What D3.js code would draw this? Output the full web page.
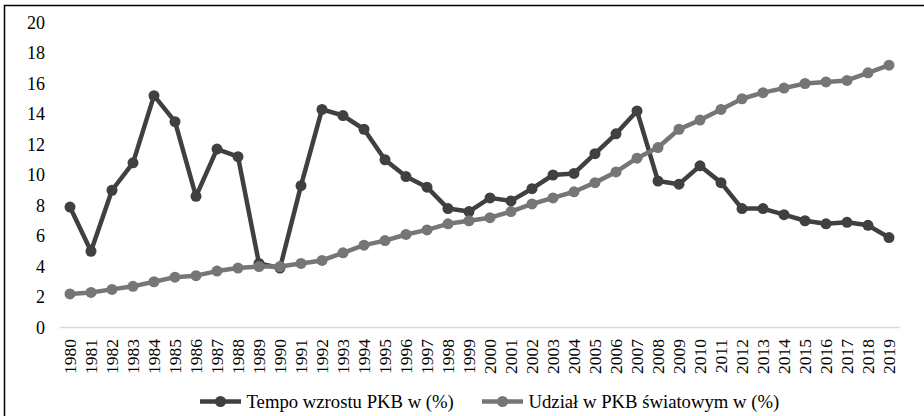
<!DOCTYPE html>
<html>
  <head>
    <meta charset="UTF-8" />
    <title>Tempo wzrostu PKB</title>
    <style>
      body {
        margin: 0;
        background: #fff;
      }
      text {
        font-family: "Liberation Serif", serif;
      }
    </style>
  </head>
  <body>
    <div id="chart"></div>
    <script src="https://cdnjs.cloudflare.com/ajax/libs/d3/7.8.5/d3.min.js"></script>
    <script>
      // lata 1980-2019
      var years = [
        1980, 1981, 1982, 1983, 1984, 1985, 1986, 1987, 1988, 1989,
        1990, 1991, 1992, 1993, 1994, 1995, 1996, 1997, 1998, 1999,
        2000, 2001, 2002, 2003, 2004, 2005, 2006, 2007, 2008, 2009,
        2010, 2011, 2012, 2013, 2014, 2015, 2016, 2017, 2018, 2019,
      ];

      var tempo = [
        7.9, 5.0, 9.0, 10.8, 15.2, 13.5, 8.6, 11.7, 11.2, 4.2,
        3.9, 9.3, 14.3, 13.9, 13.0, 11.0, 9.9, 9.2, 7.8, 7.6,
        8.5, 8.3, 9.1, 10.0, 10.1, 11.4, 12.7, 14.2, 9.6, 9.4,
        10.6, 9.5, 7.8, 7.8, 7.4, 7.0, 6.8, 6.9, 6.7, 5.9,
      ];

      var udzial = [
        2.2, 2.3, 2.5, 2.7, 3.0, 3.3, 3.4, 3.7, 3.9, 4.0,
        4.0, 4.2, 4.4, 4.9, 5.4, 5.7, 6.1, 6.4, 6.8, 7.0,
        7.2, 7.6, 8.1, 8.5, 8.9, 9.5, 10.2, 11.1, 11.8, 13.0,
        13.6, 14.3, 15.0, 15.4, 15.7, 16.0, 16.1, 16.2, 16.7, 17.2,
      ];

      var yTicks = [0, 2, 4, 6, 8, 10, 12, 14, 16, 18, 20];

      var seriesNames = ["Tempo wzrostu PKB w (%)", "Udział w PKB światowym w (%)"];
      var colors = ["#404040", "#767676"];

      var width = 924,
        height = 416;

      var svg = d3
        .select("#chart")
        .append("svg")
        .attr("width", width)
        .attr("height", height);

      // ramka wykresu (prawa i dolna krawędź poza kadrem)
      svg
        .append("rect")
        .attr("x", 4.5)
        .attr("y", 5.5)
        .attr("width", 940)
        .attr("height", 430)
        .attr("fill", "none")
        .attr("stroke", "#000")
        .attr("stroke-width", 1.5);

      var x = d3
        .scaleBand()
        .domain(years)
        .range([59.5, 899.5]);

      var y = d3.scaleLinear().domain([0, 20]).range([327.5, 22.5]);

      function cx(d, i) {
        return x(years[i]) + x.bandwidth() / 2;
      }

      // oś Y - same etykiety
      svg
        .append("g")
        .selectAll("text")
        .data(yTicks)
        .enter()
        .append("text")
        .attr("x", 45)
        .attr("y", function (d) {
          return y(d);
        })
        .attr("dy", "0.34em")
        .attr("text-anchor", "end")
        .attr("font-family", "Liberation Serif")
        .attr("font-size", 18)
        .text(function (d) {
          return d;
        });

      // oś X
      svg
        .append("line")
        .attr("x1", x.range()[0])
        .attr("x2", x.range()[1])
        .attr("y1", y(0))
        .attr("y2", y(0))
        .attr("stroke", "#d9d9d9")
        .attr("stroke-width", 1.5);

      svg
        .append("g")
        .selectAll("text")
        .data(years)
        .enter()
        .append("text")
        .attr("transform", function (d, i) {
          return "translate(" + cx(d, i) + "," + (y(0) + 11.5) + ") rotate(-90)";
        })
        .attr("dy", "0.34em")
        .attr("text-anchor", "end")
        .attr("font-family", "Liberation Serif")
        .attr("font-size", 17.5)
        .text(function (d) {
          return d;
        });

      var line = d3
        .line()
        .x(cx)
        .y(function (d) {
          return y(d);
        });

      // szara seria rysowana na ciemnej, jak w oryginale
      var allSeries = [tempo, udzial];

      allSeries.forEach(function (vals, s) {
        var g = svg.append("g");
        g.append("path")
          .datum(vals)
          .attr("d", line)
          .attr("fill", "none")
          .attr("stroke", colors[s])
          .attr("stroke-width", 4.5)
          .attr("stroke-linejoin", "round");

        g.selectAll("circle")
          .data(vals)
          .enter()
          .append("circle")
          .attr("cx", cx)
          .attr("cy", function (d) {
            return y(d);
          })
          .attr("r", 5.5)
          .attr("fill", colors[s]);
      });

      // legenda
      var legendX = [200, 482];
      var legend = svg
        .append("g")
        .selectAll("g")
        .data(seriesNames)
        .enter()
        .append("g")
        .attr("transform", function (d, i) {
          return "translate(" + legendX[i] + ",401.5)";
        });

      legend
        .append("line")
        .attr("x1", 0)
        .attr("x2", 41)
        .attr("stroke", function (d, i) {
          return colors[i];
        })
        .attr("stroke-width", 4.5);

      legend
        .append("circle")
        .attr("cx", 20.5)
        .attr("r", 5.5)
        .attr("fill", function (d, i) {
          return colors[i];
        });

      legend
        .append("text")
        .attr("x", 46.5)
        .attr("dy", "0.34em")
        .attr("font-family", "Liberation Serif")
        .attr("font-size", 18.7)
        .text(function (d) {
          return d;
        });
    </script>
  </body>
</html>
